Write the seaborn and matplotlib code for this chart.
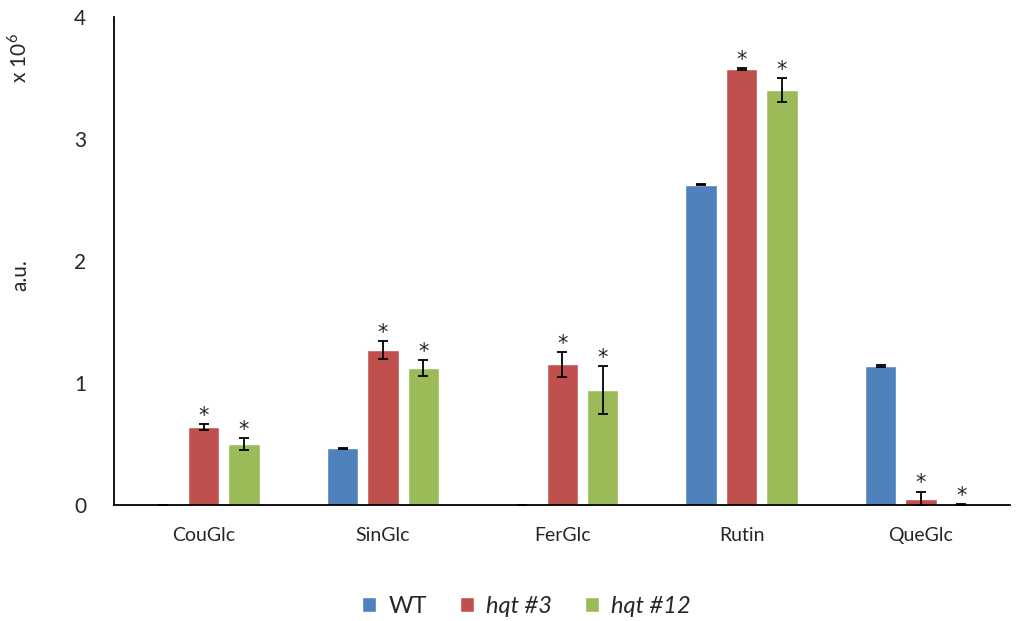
import numpy as np
import pandas as pd
import matplotlib
matplotlib.use("Agg")
import matplotlib.pyplot as plt
import seaborn as sns

# values (units of 10^6 a.u.)
compounds = ["CouGlc", "SinGlc", "FerGlc", "Rutin", "QueGlc"]
lines = ["WT", "hqt #3", "hqt #12"]
wt_vals = [0.0, 0.465, 0.0, 2.625, 1.14]
wt_err = [0.0, 0.004, 0.0, 0.006, 0.005]
hqt3_vals = [0.64, 1.268, 1.153, 3.572, 0.05]
hqt3_err = [0.022, 0.074, 0.10, 0.008, 0.06]
hqt12_vals = [0.50, 1.125, 0.94, 3.404, 0.005]
hqt12_err = [0.049, 0.064, 0.197, 0.097, 0.002]
signif = [[False, False, False, False, False],
          [True, True, True, True, True],
          [True, True, True, True, True]]
colors = ["#4F81BD", "#C0504D", "#9BBB59"]

df = pd.DataFrame({
    "compound": compounds * 3,
    "line": [l for l in lines for _ in compounds],
    "value": wt_vals + hqt3_vals + hqt12_vals,
})
errs = [wt_err, hqt3_err, hqt12_err]

sns.set_style("white")
plt.rcParams["font.family"] = ["Lato", "DejaVu Sans"]
plt.rcParams["mathtext.fontset"] = "custom"
plt.rcParams["mathtext.rm"] = "Lato"

fig = plt.figure(figsize=(10.21, 6.21), dpi=100)
ax = fig.add_axes([0.1117, 0.1868, 0.878, 0.7858])

sns.barplot(data=df, x="compound", y="value", hue="line", order=compounds,
            hue_order=lines, palette=colors, width=0.675, gap=0.22,
            errorbar=None, saturation=1, ax=ax)

for cont, err, sig in zip(ax.containers, errs, signif):
    xs = [p.get_x() + p.get_width() / 2 for p in cont.patches]
    ys = [p.get_height() for p in cont.patches]
    ax.errorbar(xs, ys, yerr=err, fmt="none", ecolor="black",
                elinewidth=1.3, capsize=3.5, capthick=1.3, zorder=3)
    for x, y, e, s in zip(xs, ys, err, sig):
        if s:
            ax.annotate("*", (x, y + e), xytext=(0, 6), textcoords="offset points",
                        ha="center", va="center", fontsize=15, family="DejaVu Sans")

ax.set_ylim(0, 4)
ax.set_xlim(-0.5, 4.5)
ax.set_yticks([0, 1, 2, 3, 4])
ax.set_yticklabels(["0", "1", "2", "3", "4"])
ax.tick_params(axis="y", direction="in", length=6.5, width=1.2, pad=20, labelsize=15)
ax.tick_params(axis="x", length=0, pad=16, labelsize=14)
ax.set_xlabel("")
ax.set_ylabel("")
for s in ["top", "right"]:
    ax.spines[s].set_visible(False)
for s in ["left", "bottom"]:
    ax.spines[s].set_color("black")
    ax.spines[s].set_linewidth(1.3)

fig.text(0.018, 0.907, r"x 10$^{\mathrm{6}}$", rotation=90, ha="center", va="center", fontsize=15)
fig.text(0.020, 0.557, "a.u.", rotation=90, ha="center", va="center", fontsize=15)

leg = ax.legend(loc="center", bbox_to_anchor=(0.46, -0.207), ncol=3, frameon=False,
                fontsize=17, handlelength=0.6, handleheight=0.6, columnspacing=1.4,
                handletextpad=0.5)
for t in leg.get_texts()[1:]:
    t.set_style("italic")

fig.savefig("out.png", dpi=100)
